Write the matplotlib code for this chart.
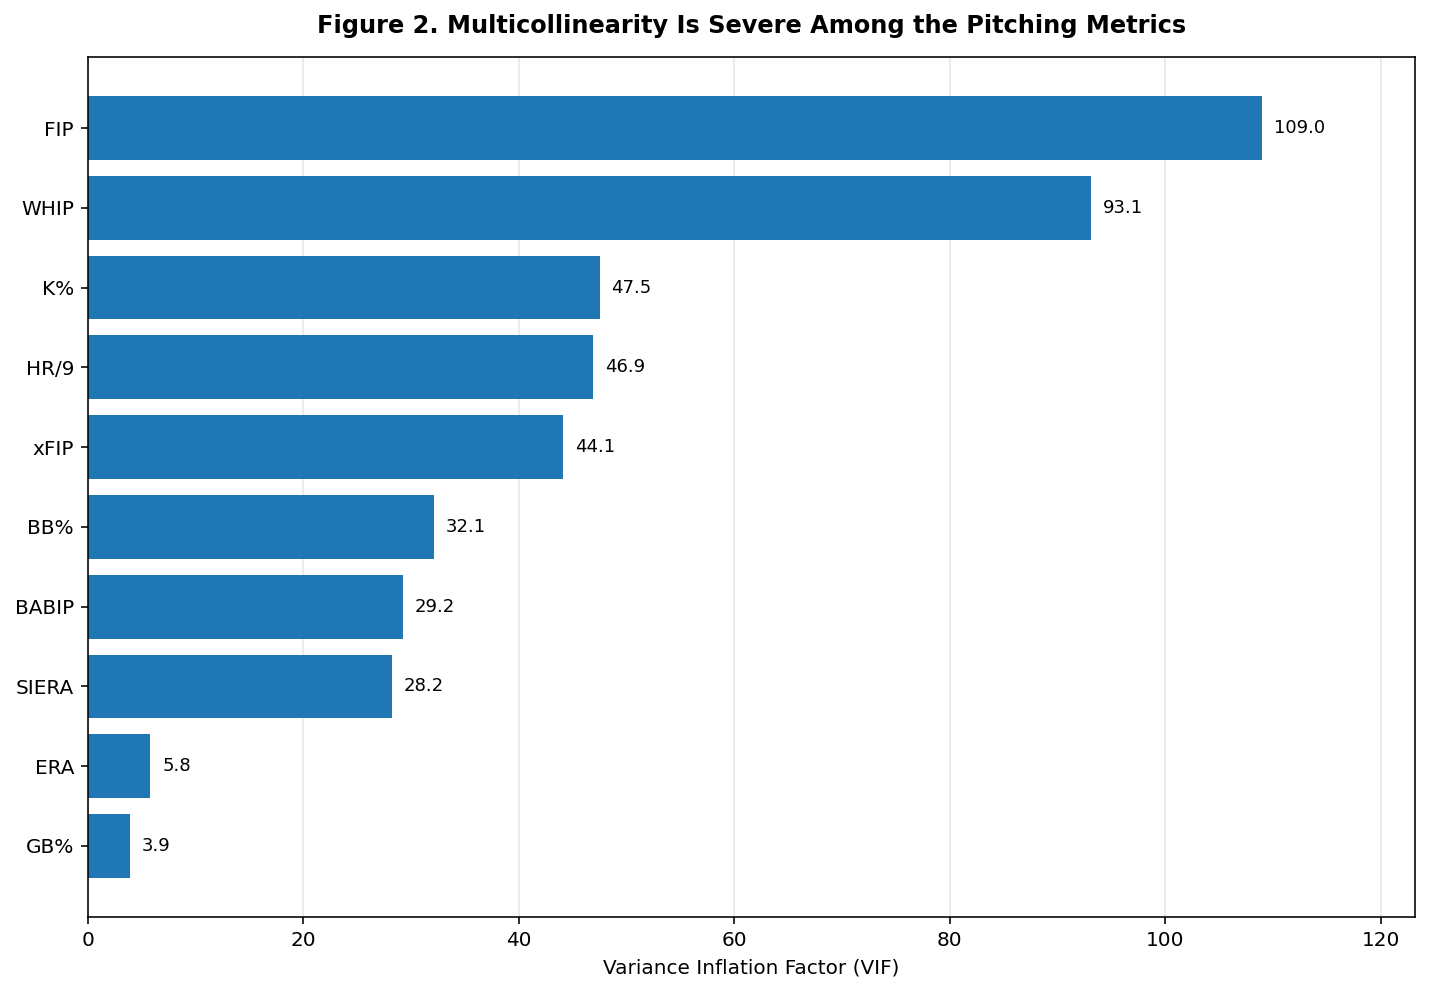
import numpy as np
import matplotlib.pyplot as plt

metrics = ["FIP", "WHIP", "K%", "HR/9", "xFIP", "BB%", "BABIP", "SIERA", "ERA", "GB%"]
vif = [109.0, 93.1, 47.5, 46.9, 44.1, 32.1, 29.2, 28.2, 5.8, 3.9]

DPI = 144
fig, ax = plt.subplots(figsize=(1429 / DPI, 995 / DPI), dpi=DPI)

y = np.arange(len(metrics))
ax.barh(y, vif, color="#1f77b4", height=0.8, zorder=2)
ax.set_yticks(y)
ax.set_yticklabels(metrics)
ax.invert_yaxis()

for i, v in enumerate(vif):
    ax.text(v + max(vif) * 0.01, i, "%.1f" % v, va="center", ha="left", fontsize=9)

ax.set_xlim(0, max(vif) * 1.13)
ax.grid(axis="x", alpha=0.3, zorder=0)
ax.set_xlabel("Variance Inflation Factor (VIF)")
ax.set_title("Figure 2. Multicollinearity Is Severe Among the Pitching Metrics",
             fontweight="bold", fontsize=12, pad=12)

plt.subplots_adjust(left=88 / 1429, right=1415 / 1429, top=1 - 57 / 995, bottom=1 - 917 / 995)
plt.savefig("out.png", dpi=DPI)
